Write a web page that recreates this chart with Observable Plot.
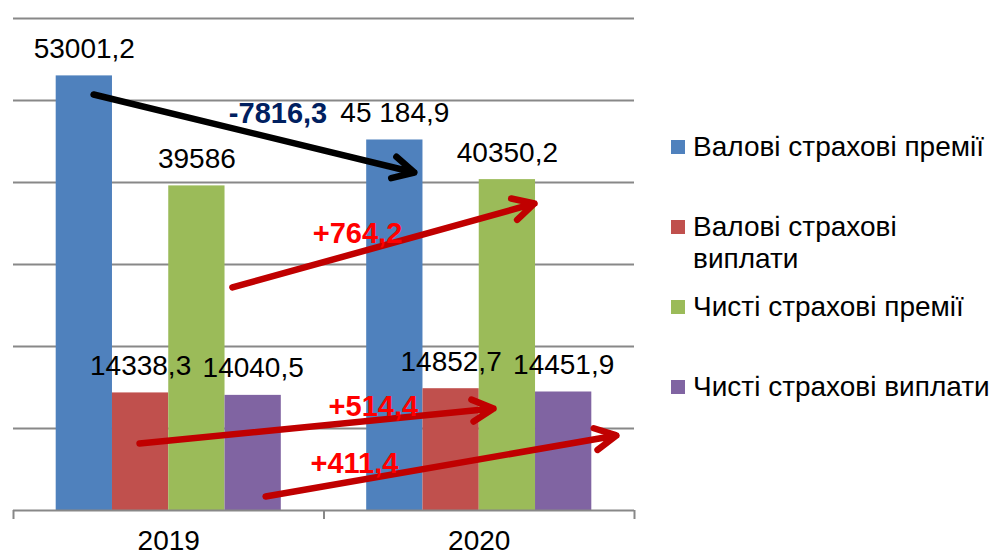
<!DOCTYPE html>
<html>
<head>
<meta charset="utf-8">
<script src="https://cdn.jsdelivr.net/npm/d3@7"></script>
<script src="https://cdn.jsdelivr.net/npm/@observablehq/plot@0.6"></script>
<style>
  body { margin: 0; background: #fff; font-family: "Liberation Sans", Arial, sans-serif; }
  #wrap { position: relative; width: 990px; height: 556px; overflow: hidden; }
  #chart { position: absolute; left: 0; top: 0; }
  #legend { position: absolute; left: 671px; top: 131px; }
  .item { display: flex; align-items: flex-start; height: 80px; }
  .sw { width: 14px; height: 14px; margin-top: 9px; margin-right: 8px; flex: none; }
  .lt { width: 297px; font-size: 28px; line-height: 32px; color: #000; }
</style>
</head>
<body>
<div id="wrap">
  <div id="chart"></div>
  <div id="legend"></div>
</div>
<script>
// ---- data ----
const years = ["2019", "2020"];
const series = ["Валові страхові премії", "Валові страхові виплати", "Чисті страхові премії", "Чисті страхові виплати"];
const colors = ["#4F81BD", "#C0504D", "#9BBB59", "#8064A2"];
const values2019 = [53001.2, 14338.3, 39586, 14040.5];
const values2020 = [45184.9, 14852.7, 40350.2, 14451.9];
const labels2019 = ["53001,2", "14338,3", "39586", "14040,5"];
const labels2020 = ["45 184,9", "14852,7", "40350,2", "14451,9"];
const yTicks = [0, 10000, 20000, 30000, 40000, 50000, 60000];

// change arrows (x in year-group units: 0..2, y in values)
const arrowFromX = [0.258, 0.705, 0.406, 0.812];
const arrowFromY = [50730, 27200, 8170, 1710];
const arrowToX = [1.291, 1.678, 1.546, 1.942];
const arrowToY = [41220, 37440, 12440, 9150];
const arrowColors = ["#000000", "#C00000", "#C00000", "#C00000"];

// change labels
const noteText = ["-7816,3", "+764,2", "+514,4", "+411,4"];
const noteX = [0.852, 1.108, 1.159, 1.098];
const noteY = [48400, 33800, 12680, 5730];
const noteColors = ["#002060", "#FF0000", "#FF0000", "#FF0000"];

// ---- table built from the arrays ----
const groupPad = 0.1375, barW = 0.18125;
const valuesByYear = [values2019, values2020];
const labelsByYear = [labels2019, labels2020];
const rows = [];
years.forEach((yr, yi) => {
  series.forEach((s, si) => {
    const x1 = yi + groupPad + si * barW;
    rows.push({year: yr, series: s, value: valuesByYear[yi][si], label: labelsByYear[yi][si], x1, x2: x1 + barW});
  });
});
const arrows = arrowFromX.map((_, i) => ({x1: arrowFromX[i], y1: arrowFromY[i], x2: arrowToX[i], y2: arrowToY[i], color: arrowColors[i]}));
const notes = noteText.map((t, i) => ({text: t, x: noteX[i], y: noteY[i], color: noteColors[i]}));

const chart = Plot.plot({
  width: 650,
  height: 556,
  marginLeft: 13,
  marginRight: 16,
  marginTop: 18,
  marginBottom: 46,
  x: {domain: [0, 2], axis: null},
  y: {domain: [0, 60000], axis: null},
  color: {domain: series, range: colors},
  style: {fontFamily: "Liberation Sans, Arial, sans-serif", fontSize: "28px", color: "#000", background: "transparent"},
  marks: [
    Plot.ruleY(yTicks.slice(1), {stroke: "#888", strokeWidth: 2}),
    Plot.rect(rows, {x1: "x1", x2: "x2", y1: 0, y2: "value", fill: "series"}),
    Plot.ruleY([0], {stroke: "#888", strokeWidth: 2}),
    Plot.ruleX([0, 1, 2], {y1: 0, y2: 0, insetBottom: -9, stroke: "#888", strokeWidth: 2}),
    Plot.axisX({ticks: [0.5, 1.5], tickFormat: d => years[Math.floor(d)], tickSize: 0, tickPadding: 20, fontSize: 28, fill: "#000"}),
    Plot.text(rows, {x: d => (d.x1 + d.x2) / 2, y: "value", text: "label", dy: -27, fontSize: 28, fill: "#000"}),
    ...arrows.map(a => Plot.arrow([a], {x1: "x1", y1: "y1", x2: "x2", y2: "y2", stroke: a.color, strokeWidth: 6.5, headLength: 5.5, headAngle: 55})),
    ...notes.map(n => Plot.text([n], {x: "x", y: "y", text: "text", fill: n.color, fontWeight: "bold", fontSize: 29}))
  ]
});
document.getElementById("chart").appendChild(chart);

// legend built from series/colors
const legend = document.getElementById("legend");
series.forEach((s, i) => {
  const item = document.createElement("div");
  item.className = "item";
  const sw = document.createElement("div");
  sw.className = "sw";
  sw.style.background = colors[i];
  const lt = document.createElement("div");
  lt.className = "lt";
  lt.textContent = s;
  item.appendChild(sw);
  item.appendChild(lt);
  legend.appendChild(item);
});
</script>
</body>
</html>
